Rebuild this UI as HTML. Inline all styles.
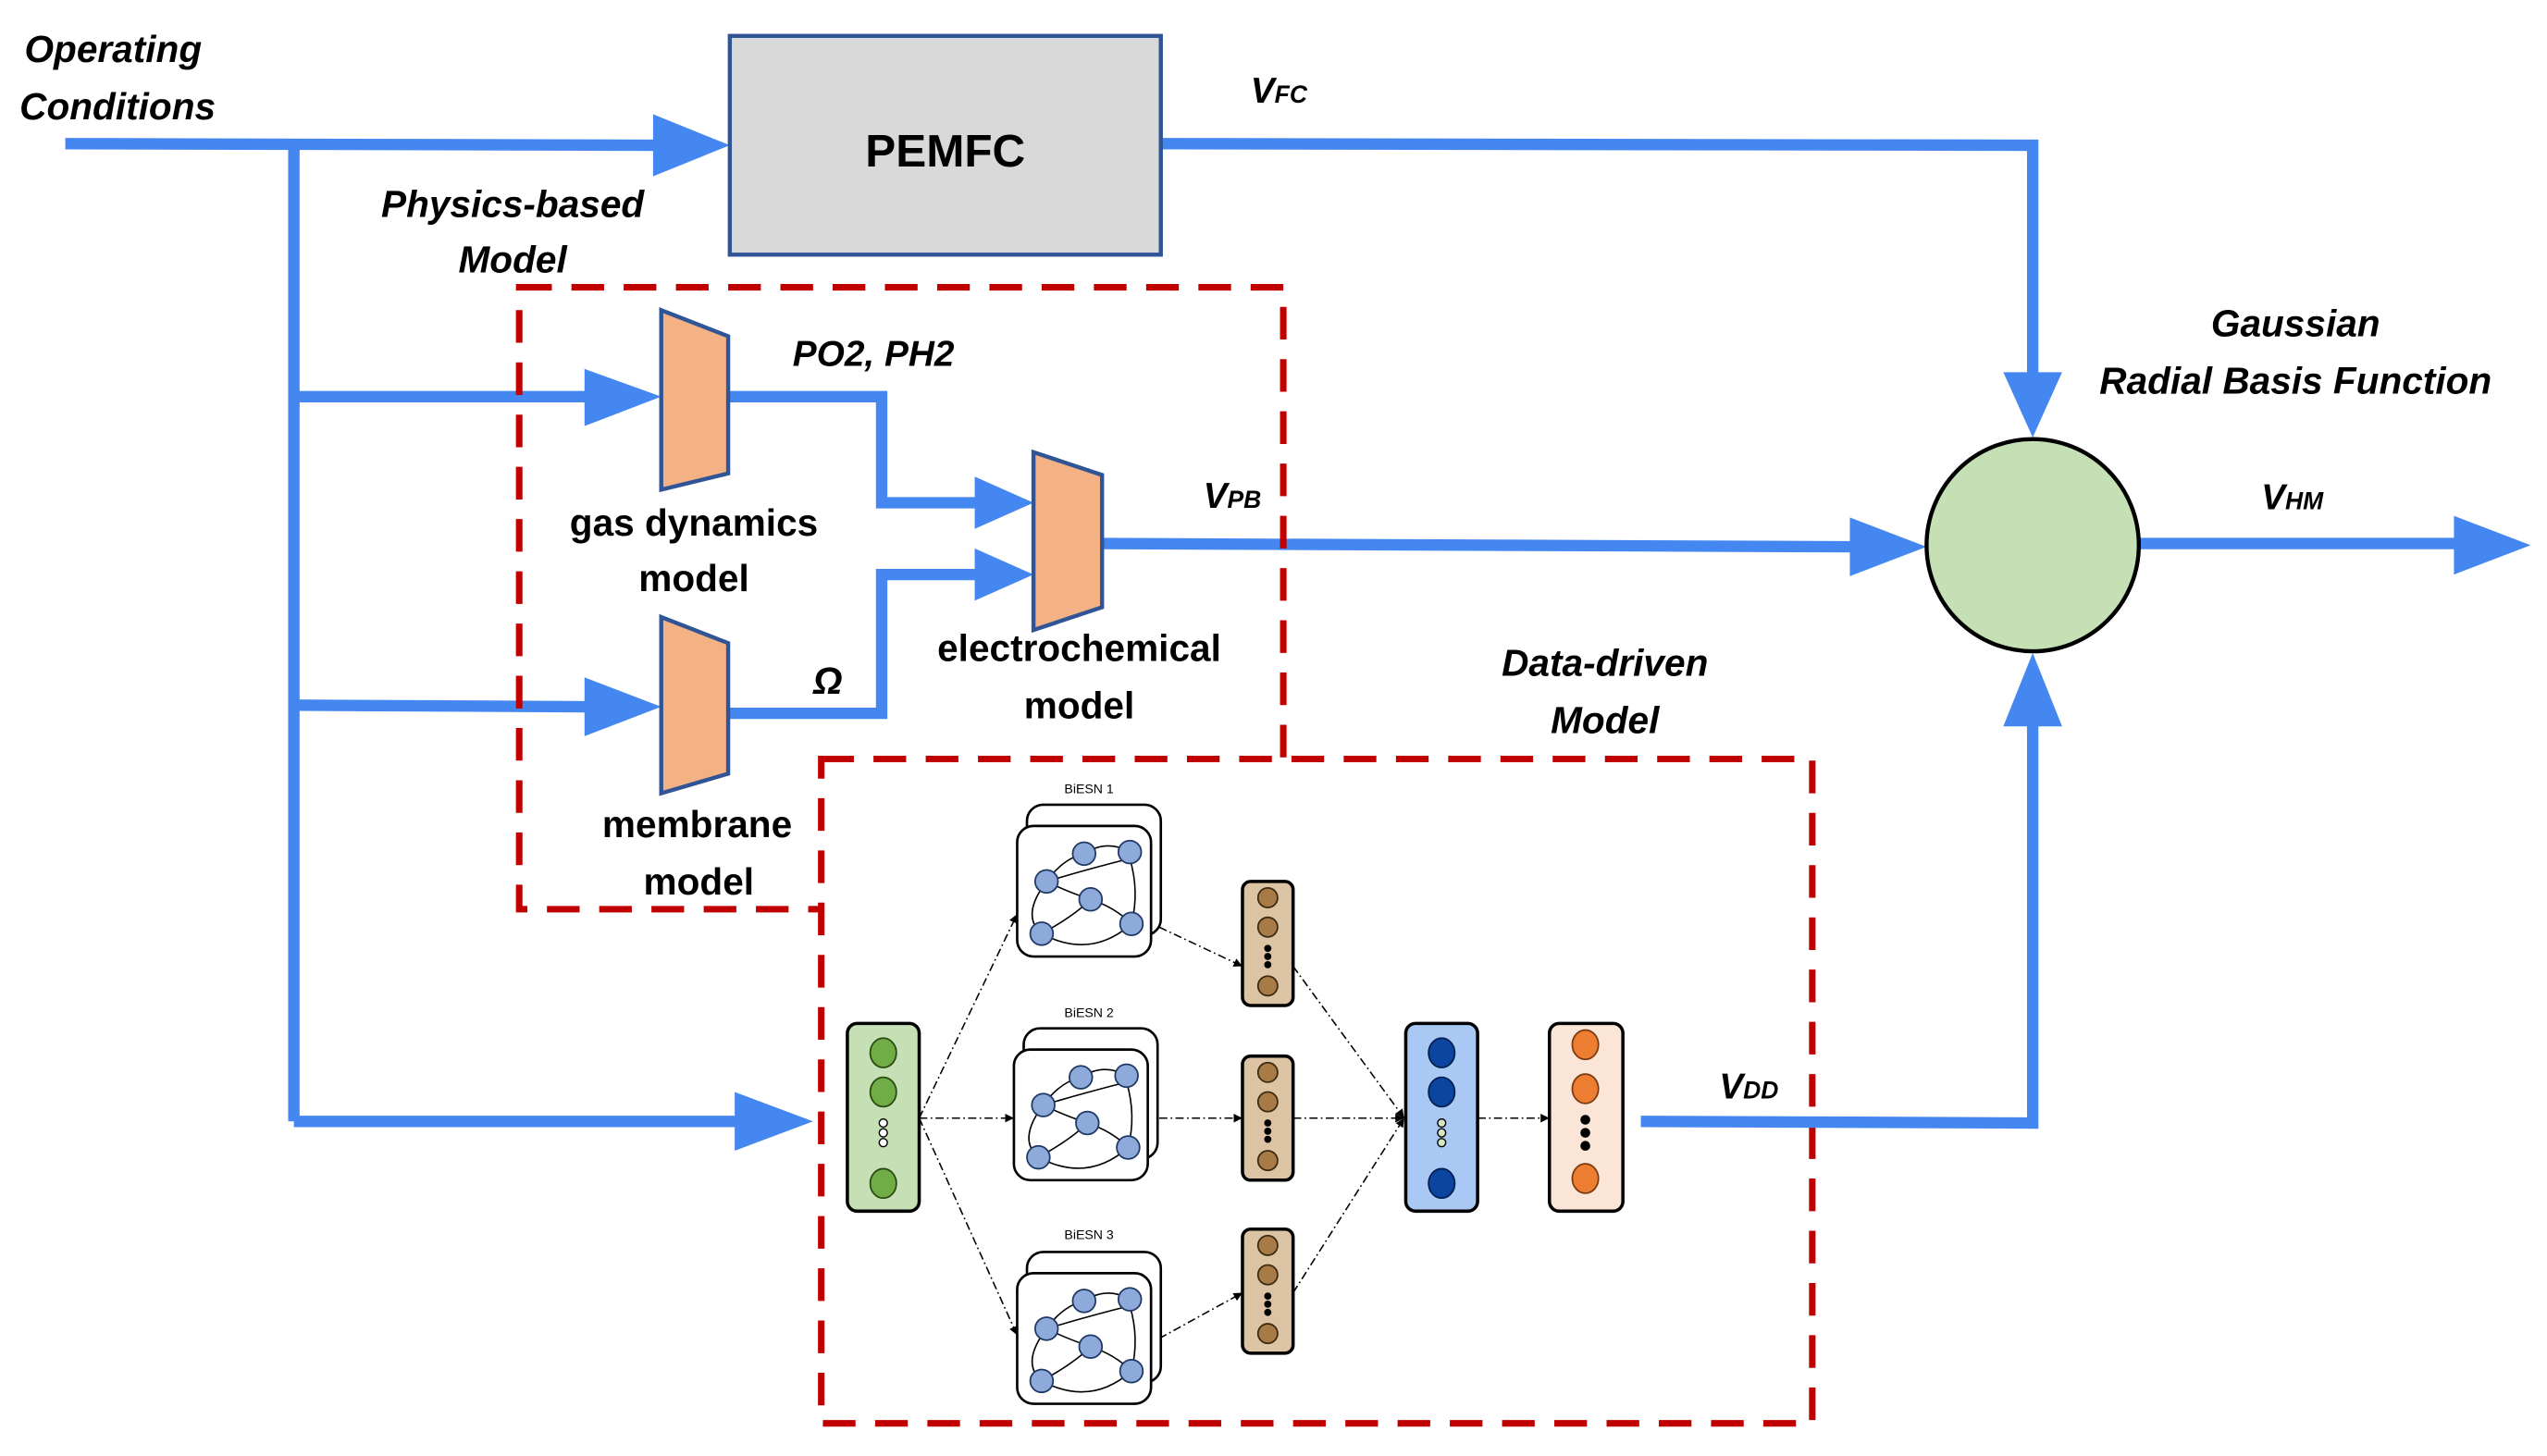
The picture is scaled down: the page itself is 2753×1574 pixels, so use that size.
<!DOCTYPE html>
<html><head><meta charset="utf-8"><style>
html,body{margin:0;padding:0;background:#fff;}
svg{display:block;}
text{font-family:"Liberation Sans",sans-serif;font-weight:bold;fill:#000;}
.it{font-style:italic;}
</style></head><body>
<svg width="2753" height="1574" viewBox="0 0 1560 892" preserveAspectRatio="none" xmlns="http://www.w3.org/2000/svg">
<defs>
<marker id="a" viewBox="0 0 10 10" refX="10" refY="5" markerWidth="6" markerHeight="6" orient="auto"><path d="M0,0L10,5L0,10z" fill="#000"/></marker>
<g id="esn">
 <rect x="6" y="-13" width="82" height="80" rx="10" fill="#fff" stroke="#000" stroke-width="1.5"/>
 <rect x="0" y="0" width="82" height="80" rx="10" fill="#fff" stroke="#000" stroke-width="1.5"/>
 <g fill="none" stroke="#000" stroke-width="0.9">
  <path d="M41,17 Q55,8 69,16"/><path d="M18,34 Q45,26 69,20"/><path d="M18,34 Q30,40 45,45"/>
  <path d="M18,34 Q2,55 15,66"/><path d="M15,66 Q45,82 70,60"/><path d="M45,45 Q35,55 15,66"/>
  <path d="M70,60 Q60,50 45,45"/><path d="M69,20 Q75,40 70,60"/><path d="M18,34 Q28,20 41,17"/>
 </g>
 <g fill="#8eaadb" stroke="#1f3864" stroke-width="1">
  <circle cx="41" cy="17" r="7"/><circle cx="69" cy="16" r="7"/><circle cx="18" cy="34" r="7"/>
  <circle cx="45" cy="45" r="7"/><circle cx="70" cy="60" r="7"/><circle cx="15" cy="66" r="7"/>
 </g>
</g>
<g id="brown">
 <rect x="0" y="0" width="31" height="76" rx="5" fill="#dcc3a4" stroke="#000" stroke-width="2"/>
 <g fill="#a87a45" stroke="#3a2a10" stroke-width="1"><ellipse cx="15.5" cy="10" rx="6" ry="6"/><ellipse cx="15.5" cy="28" rx="6" ry="6"/><ellipse cx="15.5" cy="64" rx="6" ry="6"/></g>
 <g fill="#000"><circle cx="15.5" cy="41" r="2.2"/><circle cx="15.5" cy="46" r="2.2"/><circle cx="15.5" cy="51" r="2.2"/></g>
</g>
</defs>

<!-- blue connectors -->
<g stroke="#4587f0" stroke-width="7" fill="none">
 <path d="M40,88 L405,89"/>
 <path d="M180,88 L180,687"/>
 <path d="M180,243 L362,243"/>
 <path d="M180,432 L362,433"/>
 <path d="M180,687 L455,687"/>
 <path d="M711,88 L1245,89 L1245,232"/>
 <path d="M446,243 L540,243 L540,308 L600,308"/>
 <path d="M446,437 L540,437 L540,352 L600,352"/>
 <path d="M675,333 L1140,335"/>
 <path d="M1310,333 L1510,333"/>
</g>
<g fill="#4587f0">
 <path d="M400,70 L447,89 L400,108z"/>
 <path d="M358,226 L405,243 L358,261z"/>
 <path d="M358,415 L405,433 L358,451z"/>
 <path d="M450,669 L498,687 L450,705z"/>
 <path d="M597,292 L633,308 L597,324z"/>
 <path d="M597,336 L633,352 L597,368z"/>
 <path d="M1133,317 L1180,335 L1133,353z"/>
 <path d="M1503,316 L1550,334 L1503,352z"/>
 <path d="M1227,228 L1245,268 L1263,228z"/>
 <path d="M1227,445 L1245,400 L1263,445z"/>
</g>

<!-- PEMFC -->
<rect x="447" y="22" width="264" height="134" fill="#d9d9d9" stroke="#2f5597" stroke-width="2.5"/>
<text x="579" y="102" font-size="28" text-anchor="middle">PEMFC</text>

<!-- dashed boxes -->
<rect x="318" y="176" width="468" height="381" fill="none" stroke="#c00000" stroke-width="4" stroke-dasharray="20,12"/>
<rect x="503" y="465" width="607" height="407" fill="#fff" stroke="#c00000" stroke-width="4" stroke-dasharray="20,12"/>

<path d="M1005,687 L1245,688 L1245,440" stroke="#4587f0" stroke-width="7" fill="none"/>

<!-- trapezoids -->
<g fill="#f4b183" stroke="#2f5597" stroke-width="2.5">
 <path d="M405,190 L446,206 L446,290 L405,300z"/>
 <path d="M405,378 L446,394 L446,474 L405,486z"/>
 <path d="M633,277 L675,291 L675,372 L633,386z"/>
</g>

<!-- circle -->
<circle cx="1245" cy="334" r="65" fill="#c5e0b4" stroke="#000" stroke-width="2.5"/>

<!-- labels -->
<text class="it" x="15" y="38" font-size="23">Operating</text>
<text class="it" x="12" y="73" font-size="23">Conditions</text>
<text class="it" x="314" y="133" font-size="23" text-anchor="middle">Physics-based</text>
<text class="it" x="314" y="167" font-size="23" text-anchor="middle">Model</text>
<text class="it" x="535" y="224" font-size="22" text-anchor="middle">PO2, PH2</text>
<text class="it" x="766" y="63" font-size="22">V<tspan font-size="15">FC</tspan></text>
<text class="it" x="737" y="311" font-size="22">V<tspan font-size="15">PB</tspan></text>
<text class="it" x="1385" y="312" font-size="22">V<tspan font-size="15">HM</tspan></text>
<text class="it" x="1053" y="673" font-size="22">V<tspan font-size="15">DD</tspan></text>
<text class="it" x="507" y="425" font-size="23" text-anchor="middle">Ω</text>
<text x="425" y="328" font-size="23" text-anchor="middle">gas dynamics</text>
<text x="425" y="362" font-size="23" text-anchor="middle">model</text>
<text x="661" y="405" font-size="23" text-anchor="middle">electrochemical</text>
<text x="661" y="440" font-size="23" text-anchor="middle">model</text>
<text x="427" y="513" font-size="23" text-anchor="middle">membrane</text>
<text x="428" y="548" font-size="23" text-anchor="middle">model</text>
<text class="it" x="983" y="414" font-size="23" text-anchor="middle">Data-driven</text>
<text class="it" x="983" y="449" font-size="23" text-anchor="middle">Model</text>
<text class="it" x="1406" y="206" font-size="23" text-anchor="middle">Gaussian</text>
<text class="it" x="1406" y="241" font-size="23" text-anchor="middle">Radial Basis Function</text>

<!-- neural net -->
<g stroke="#000" stroke-width="0.9" stroke-dasharray="5,2,1,2" fill="none" marker-end="url(#a)">
 <path d="M563,685 L623,560"/>
 <path d="M563,685 L621,685"/>
 <path d="M563,685 L623,818"/>
 <path d="M710,568 L761,592"/>
 <path d="M710,685 L761,685"/>
 <path d="M710,820 L761,792"/>
 <path d="M792,592 L860,685"/>
 <path d="M792,685 L860,685"/>
 <path d="M792,792 L860,685"/>
 <path d="M905,685 L949,685"/>
</g>
<text x="667" y="486" font-size="8" text-anchor="middle" style="font-weight:normal">BiESN 1</text>
<text x="667" y="623" font-size="8" text-anchor="middle" style="font-weight:normal">BiESN 2</text>
<text x="667" y="759" font-size="8" text-anchor="middle" style="font-weight:normal">BiESN 3</text>
<use href="#esn" x="623" y="506"/>
<use href="#esn" x="621" y="643"/>
<use href="#esn" x="623" y="780"/>
<use href="#brown" x="761" y="540"/>
<use href="#brown" x="761" y="647"/>
<use href="#brown" x="761" y="753"/>

<rect x="519" y="627" width="44" height="115" rx="6" fill="#c5e0b4" stroke="#000" stroke-width="2"/>
<g fill="#70ad47" stroke="#2a4a10" stroke-width="1"><ellipse cx="541" cy="645" rx="8" ry="9"/><ellipse cx="541" cy="669" rx="8" ry="9"/><ellipse cx="541" cy="725" rx="8" ry="9"/></g>
<g fill="#fff" stroke="#000" stroke-width="0.8"><circle cx="541" cy="688" r="2.5"/><circle cx="541" cy="694" r="2.5"/><circle cx="541" cy="700" r="2.5"/></g>

<rect x="861" y="627" width="44" height="115" rx="6" fill="#a9c8f4" stroke="#000" stroke-width="2"/>
<g fill="#0b45a0" stroke="#02204f" stroke-width="1"><ellipse cx="883" cy="645" rx="8" ry="9"/><ellipse cx="883" cy="669" rx="8" ry="9"/><ellipse cx="883" cy="725" rx="8" ry="9"/></g>
<g fill="#d5e8c5" stroke="#000" stroke-width="0.8"><circle cx="883" cy="688" r="2.5"/><circle cx="883" cy="694" r="2.5"/><circle cx="883" cy="700" r="2.5"/></g>

<rect x="949" y="627" width="45" height="115" rx="6" fill="#fbe5d6" stroke="#000" stroke-width="2"/>
<g fill="#ed7d31" stroke="#7a3a10" stroke-width="1"><ellipse cx="971" cy="640" rx="8" ry="9"/><ellipse cx="971" cy="667" rx="8" ry="9"/><ellipse cx="971" cy="722" rx="8" ry="9"/></g>
<g fill="#000"><circle cx="971" cy="686" r="3"/><circle cx="971" cy="694" r="3"/><circle cx="971" cy="702" r="3"/></g>
</svg>
</body></html>
